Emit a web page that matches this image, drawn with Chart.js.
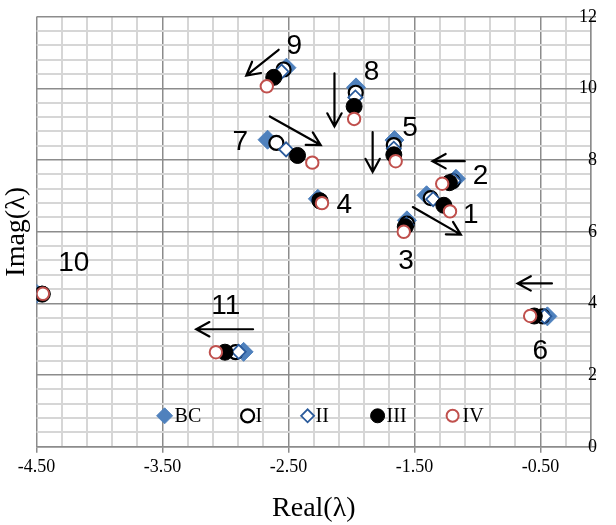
<!DOCTYPE html>
<html>
<head>
<meta charset="utf-8">
<title>Eigenvalues</title>
<script src="https://cdn.jsdelivr.net/npm/chart.js@4/dist/chart.umd.min.js"></script>
<style>
	html, body { margin: 0; padding: 0; background: #fff; }
	#wrap { width: 616px; height: 525px; }
</style>
</head>
<body>
<div id="wrap"><canvas id="eigChart" width="616" height="525"></canvas></div>
<script>
// modes 1..11
var modeNames = ['1', '2', '3', '4', '5', '6', '7', '8', '9', '10', '11'];

var bcReal = [-1.405, -1.172, -1.561, -2.268, -1.660, -0.446, -2.667, -1.965, -2.517, -4.500, -2.857];
var bcImag = [7.02, 7.48, 6.32, 6.92, 8.56, 3.64, 8.57, 10.03, 10.58, 4.27, 2.65];

var iReal = [-1.372, -1.198, -1.561, -2.255, -1.665, -0.485, -2.597, -1.967, -2.540, -4.455, -2.921];
var iImag = [6.94, 7.41, 6.23, 6.88, 8.42, 3.64, 8.48, 9.88, 10.53, 4.27, 2.64];

var iiReal = [-1.353, -1.190, -1.565, -2.260, -1.665, -0.470, -2.520, -1.970, -2.556, -4.460, -2.896];
var iiImag = [6.91, 7.43, 6.20, 6.87, 8.32, 3.64, 8.30, 9.75, 10.47, 4.27, 2.65];

var iiiReal = [-1.268, -1.224, -1.574, -2.250, -1.665, -0.550, -2.429, -1.980, -2.618, -4.455, -3.005];
var iiiImag = [6.74, 7.37, 6.14, 6.86, 8.15, 3.65, 8.13, 9.50, 10.31, 4.26, 2.64];

var ivReal = [-1.219, -1.281, -1.586, -2.235, -1.650, -0.583, -2.312, -1.980, -2.673, -4.450, -3.077];
var ivImag = [6.57, 7.34, 6.00, 6.80, 7.97, 3.65, 7.93, 9.15, 10.06, 4.27, 2.64];

var seriesNames = ['BC', 'I', 'II', 'III', 'IV'];

// axis ticks
var xMin = -4.5, xMax = -0.1, xMinorStep = 0.2;
var xLabelTicks = [-4.5, -3.5, -2.5, -1.5, -0.5];
var yMin = 0, yMax = 12, yMinorStep = 0.4;
var yLabelTicks = [0, 2, 4, 6, 8, 10, 12];

// mode labels and arrows, in data units
var labelText = ['9', '8', '7', '5', '2', '1', '4', '3', '6', '10', '11'];
var labelX = [-2.455, -1.841, -2.883, -1.537, -0.977, -1.055, -2.058, -1.568, -0.503, -4.205, -2.999];
var labelY = [11.17, 10.44, 8.50, 8.89, 7.56, 6.47, 6.75, 5.17, 2.67, 5.11, 3.92];

var arrowFromX = [-2.579, -2.136, -2.649, -1.833, -1.102, -1.514, -2.782, -0.410];
var arrowFromY = [11.08, 10.42, 9.22, 8.78, 7.97, 6.69, 3.28, 4.56];
var arrowToX = [-2.836, -2.136, -2.245, -1.833, -1.358, -1.133, -3.233, -0.682];
var arrowToY = [10.36, 8.94, 8.42, 7.67, 7.97, 5.92, 3.28, 4.56];

var serif = '"Liberation Serif", "Times New Roman", serif';

function toPoints(re, im){
	var pts = [];
	for(var i = 0; i < re.length; i++){
		pts.push({x: re[i], y: im[i]});
	}
	return pts;
}

function isOn(list, v){
	for(var i = 0; i < list.length; i++){
		if(Math.abs(list[i] - v) < 1e-6) return true;
	}
	return false;
}

function stepTicks(lo, hi, step){
	var out = [];
	var n = Math.round((hi - lo) / step);
	for(var k = 0; k <= n; k++){
		out.push({value: Math.round((lo + k * step) * 1000) / 1000});
	}
	return out;
}

var styles = [
	{pointStyle: 'rectRot', radius: 9.5, bg: '#4F81BD', border: '#4F81BD', bw: 1},
	{pointStyle: 'circle', radius: 7, bg: '#ffffff', border: '#000000', bw: 2.2},
	{pointStyle: 'rectRot', radius: 7, bg: '#ffffff', border: '#2A5A9B', bw: 1.8},
	{pointStyle: 'circle', radius: 8, bg: '#000000', border: '#000000', bw: 1},
	{pointStyle: 'circle', radius: 6.2, bg: '#ffffff', border: '#C0504D', bw: 2}
];

var allReal = [bcReal, iReal, iiReal, iiiReal, ivReal];
var allImag = [bcImag, iImag, iiImag, iiiImag, ivImag];

var datasets = [];
seriesNames.forEach(function(name, i){
	datasets.push({
		label: name,
		data: toPoints(allReal[i], allImag[i]),
		pointStyle: styles[i].pointStyle,
		pointRadius: styles[i].radius,
		pointBackgroundColor: styles[i].bg,
		pointBorderColor: styles[i].border,
		pointBorderWidth: styles[i].bw,
		showLine: false,
		order: seriesNames.length - i
	});
});

// legend sits inside the plot, near the bottom
var legendMarkX = [128, 211, 271, 341, 416];
var legendTextX = [138, 219, 279, 350, 426];
var legendRadius = [8, 6.5, 6.5, 7, 6];

var insideLegend = {
	id: 'insideLegend',
	afterDraw: function(chart){
		var ctx = chart.ctx;
		var area = chart.chartArea;
		var y = area.bottom - 31;
		ctx.save();
		for(var i = 0; i < seriesNames.length; i++){
			var s = styles[i];
			ctx.fillStyle = s.bg;
			ctx.strokeStyle = s.border;
			ctx.lineWidth = s.bw;
			Chart.helpers.drawPoint(ctx, {pointStyle: s.pointStyle, radius: legendRadius[i], borderWidth: s.bw, rotation: 0}, area.left + legendMarkX[i], y);
			ctx.fillStyle = '#000';
			ctx.font = '20px ' + serif;
			ctx.textBaseline = 'middle';
			ctx.textAlign = 'left';
			ctx.fillText(seriesNames[i], area.left + legendTextX[i], y + 1);
		}
		ctx.restore();
	}
};

var arrowsAndLabels = {
	id: 'arrowsAndLabels',
	afterDatasetsDraw: function(chart){
		var ctx = chart.ctx;
		var xs = chart.scales.x, ys = chart.scales.y;
		ctx.save();
		ctx.strokeStyle = '#000';
		ctx.lineWidth = 2.2;
		ctx.lineCap = 'round';
		for(var i = 0; i < arrowFromX.length; i++){
			var x0 = xs.getPixelForValue(arrowFromX[i]), y0 = ys.getPixelForValue(arrowFromY[i]);
			var x1 = xs.getPixelForValue(arrowToX[i]), y1 = ys.getPixelForValue(arrowToY[i]);
			var ang = Math.atan2(y1 - y0, x1 - x0);
			var head = 15, spread = 0.5;
			ctx.beginPath();
			ctx.moveTo(x0, y0);
			ctx.lineTo(x1, y1);
			ctx.moveTo(x1 - head * Math.cos(ang - spread), y1 - head * Math.sin(ang - spread));
			ctx.lineTo(x1, y1);
			ctx.lineTo(x1 - head * Math.cos(ang + spread), y1 - head * Math.sin(ang + spread));
			ctx.stroke();
		}
		ctx.fillStyle = '#000';
		ctx.font = '28px "Liberation Sans", Arial, sans-serif';
		ctx.textAlign = 'center';
		ctx.textBaseline = 'middle';
		for(var j = 0; j < labelText.length; j++){
			ctx.fillText(labelText[j], xs.getPixelForValue(labelX[j]), ys.getPixelForValue(labelY[j]));
		}
		ctx.restore();
	}
};

var ctx = document.getElementById('eigChart').getContext('2d');
var eigChart = new Chart(ctx, {
	type: 'scatter',
	data: { datasets: datasets },
	options: {
		responsive: false,
		animation: false,
		layout: { padding: { top: 14, right: 8, left: 0, bottom: 0 } },
		plugins: {
			legend: { display: false },
			tooltip: { enabled: false }
		},
		scales: {
			x: {
				type: 'linear',
				min: xMin,
				max: xMax,
				afterBuildTicks: function(axis){ axis.ticks = stepTicks(xMin, xMax, xMinorStep); },
				ticks: {
					autoSkip: false,
					maxRotation: 0,
					padding: 4,
					color: '#000',
					font: { family: serif, size: 18 },
					callback: function(v){ return isOn(xLabelTicks, v) ? v.toFixed(2) : ''; }
				},
				grid: {
					color: function(c){ return isOn(xLabelTicks, c.tick.value) || c.index == 0 ? '#8C8C8C' : '#D6D6D6'; },
					lineWidth: function(c){ return isOn(xLabelTicks, c.tick.value) || c.index == 0 ? 1.5 : 2; },
					tickColor: function(c){ return isOn(xLabelTicks, c.tick.value) ? '#8C8C8C' : 'rgba(0,0,0,0)'; },
					tickLength: 6
				},
				border: { color: '#8C8C8C', width: 1.5 },
				title: {
					display: true,
					text: 'Real(λ)',
					color: '#000',
					font: { family: serif, size: 28 },
					padding: { top: 9, bottom: 0 }
				}
			},
			y: {
				type: 'linear',
				position: 'right',
				min: yMin,
				max: yMax,
				afterBuildTicks: function(axis){ axis.ticks = stepTicks(yMin, yMax, yMinorStep); },
				ticks: {
					autoSkip: false,
					mirror: true,
					padding: 6,
					color: '#000',
					font: { family: serif, size: 18 },
					callback: function(v){ return isOn(yLabelTicks, v) ? String(Math.round(v)) : ''; }
				},
				grid: {
					color: function(c){ return isOn(yLabelTicks, c.tick.value) ? '#8C8C8C' : '#D6D6D6'; },
					lineWidth: function(c){ return isOn(yLabelTicks, c.tick.value) ? 1.5 : 2; },
					tickColor: function(c){ return isOn(yLabelTicks, c.tick.value) ? '#8C8C8C' : 'rgba(0,0,0,0)'; },
					tickLength: 5
				},
				border: { color: '#8C8C8C', width: 1.5 }
			},
			yTitle: {
				type: 'linear',
				position: 'left',
				min: yMin,
				max: yMax,
				grid: { display: false, drawTicks: false },
				border: { display: false },
				ticks: { display: false },
				title: {
					display: true,
					text: 'Imag(λ)',
					color: '#000',
					font: { family: serif, size: 28 },
					padding: { top: 0, bottom: 3 }
				}
			}
		}
	},
	plugins: [arrowsAndLabels, insideLegend]
});
</script>
</body>
</html>
